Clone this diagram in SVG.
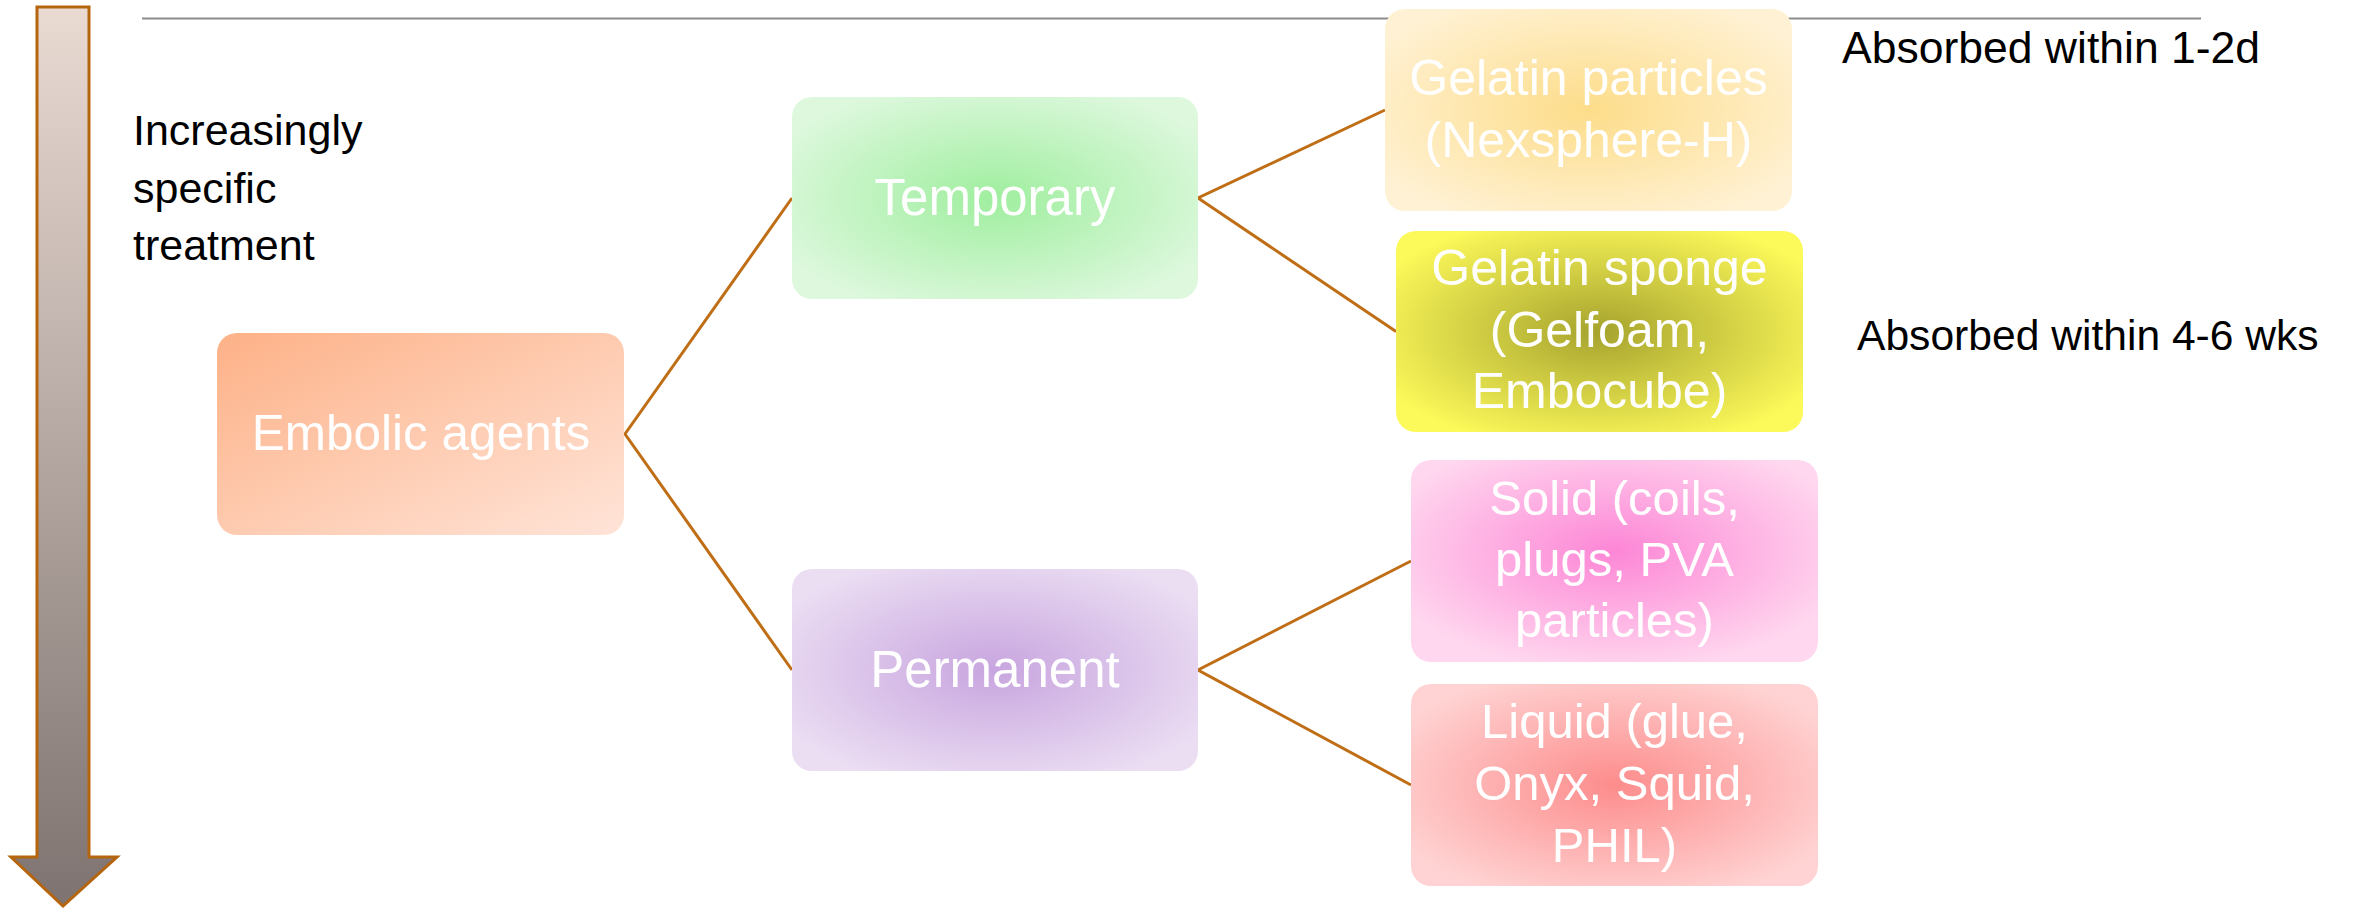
<svg xmlns="http://www.w3.org/2000/svg" width="2366" height="908" viewBox="0 0 2366 908">
<style>
  .lbl{font-family:"Liberation Sans",Arial,sans-serif;fill:#000}
  .nt{font-family:"Liberation Sans",Arial,sans-serif;fill:#fff;text-anchor:middle}
  .conn{stroke:#BF6E16;stroke-width:3;fill:none}
</style>
<defs>
  <linearGradient id="gArrow" x1="0" y1="0" x2="0" y2="1">
    <stop offset="0" stop-color="#E9DAD2"/>
    <stop offset="1" stop-color="#7E7370"/>
  </linearGradient>
  <linearGradient id="gEmb" x1="0" y1="0" x2="1" y2="1">
    <stop offset="0" stop-color="#FDB187"/>
    <stop offset="1" stop-color="#FFE4D8"/>
  </linearGradient>
  <radialGradient id="gTemp" cx="0.5" cy="0.5" r="0.6">
    <stop offset="0" stop-color="#9FEE9F"/>
    <stop offset="1" stop-color="#DEF8DE"/>
  </radialGradient>
  <radialGradient id="gPerm" cx="0.5" cy="0.5" r="0.6">
    <stop offset="0" stop-color="#C8A5DF"/>
    <stop offset="1" stop-color="#EBDEF3"/>
  </radialGradient>
  <radialGradient id="gGP" cx="0.5" cy="0.5" r="0.6">
    <stop offset="0" stop-color="#FDDD8A"/>
    <stop offset="1" stop-color="#FFF1D3"/>
  </radialGradient>
  <radialGradient id="gGS" cx="0.5" cy="0.5" r="0.6">
    <stop offset="0" stop-color="#A6A32E"/>
    <stop offset="1" stop-color="#FCF95A"/>
  </radialGradient>
  <radialGradient id="gSol" cx="0.5" cy="0.45" r="0.6">
    <stop offset="0" stop-color="#FD86D6"/>
    <stop offset="1" stop-color="#FFD8EF"/>
  </radialGradient>
  <radialGradient id="gLiq" cx="0.5" cy="0.5" r="0.6">
    <stop offset="0" stop-color="#FD8C8C"/>
    <stop offset="1" stop-color="#FFD3D3"/>
  </radialGradient>
</defs>

<rect width="2366" height="908" fill="#fff"/>

<line x1="142" y1="18.5" x2="2201" y2="18.5" stroke="#8C8C8C" stroke-width="2"/>

<g id="arrow">
  <path d="M37,7 H89 V857 H117 L63,906 L11,857 H37 Z" fill="url(#gArrow)" stroke="#B5650D" stroke-width="3"/>
</g>

<g id="label-left">
  <text class="lbl" font-size="43"><tspan x="133" y="145">Increasingly</tspan><tspan x="133" y="202.5">specific</tspan><tspan x="133" y="260">treatment</tspan></text>
</g>

<g id="connectors">
  <polyline class="conn" points="792,198 625,434 792,670"/>
  <polyline class="conn" points="1385,110 1198,198 1396,331.5"/>
  <polyline class="conn" points="1411,561 1198,670 1411,785"/>
</g>

<g id="node-embolic">
  <rect x="217" y="333" width="407" height="202" rx="20" fill="url(#gEmb)"/>
  <text class="nt" x="421" y="450" font-size="49.5">Embolic agents</text>
</g>

<g id="node-temporary">
  <rect x="792" y="97" width="406" height="202" rx="20" fill="url(#gTemp)"/>
  <text class="nt" x="995" y="215" font-size="51">Temporary</text>
</g>

<g id="node-permanent">
  <rect x="792" y="569" width="406" height="202" rx="20" fill="url(#gPerm)"/>
  <text class="nt" x="995" y="687" font-size="51">Permanent</text>
</g>

<g id="node-gelatin-particles">
  <rect x="1385" y="9" width="407" height="202" rx="20" fill="url(#gGP)"/>
  <text class="nt" font-size="50"><tspan x="1588.5" y="95">Gelatin particles</tspan><tspan x="1588.5" y="157">(Nexsphere-H)</tspan></text>
</g>

<g id="node-gelatin-sponge">
  <rect x="1396" y="231" width="407" height="201" rx="20" fill="url(#gGS)"/>
  <text class="nt" font-size="50"><tspan x="1599.5" y="285">Gelatin sponge</tspan><tspan x="1599.5" y="346.5">(Gelfoam,</tspan><tspan x="1599.5" y="408">Embocube)</tspan></text>
</g>

<g id="node-solid">
  <rect x="1411" y="460" width="407" height="202" rx="20" fill="url(#gSol)"/>
  <text class="nt" font-size="49"><tspan x="1614.5" y="515">Solid (coils,</tspan><tspan x="1614.5" y="576">plugs, PVA</tspan><tspan x="1614.5" y="637">particles)</tspan></text>
</g>

<g id="node-liquid">
  <rect x="1411" y="684" width="407" height="202" rx="20" fill="url(#gLiq)"/>
  <text class="nt" font-size="49"><tspan x="1614.5" y="738">Liquid (glue,</tspan><tspan x="1614.5" y="800">Onyx, Squid,</tspan><tspan x="1614.5" y="862">PHIL)</tspan></text>
</g>

<g id="notes">
  <text class="lbl" x="1842" y="63" font-size="44.5">Absorbed within 1-2d</text>
  <text class="lbl" x="1857" y="350" font-size="42.6">Absorbed within 4-6 wks</text>
</g>
</svg>
